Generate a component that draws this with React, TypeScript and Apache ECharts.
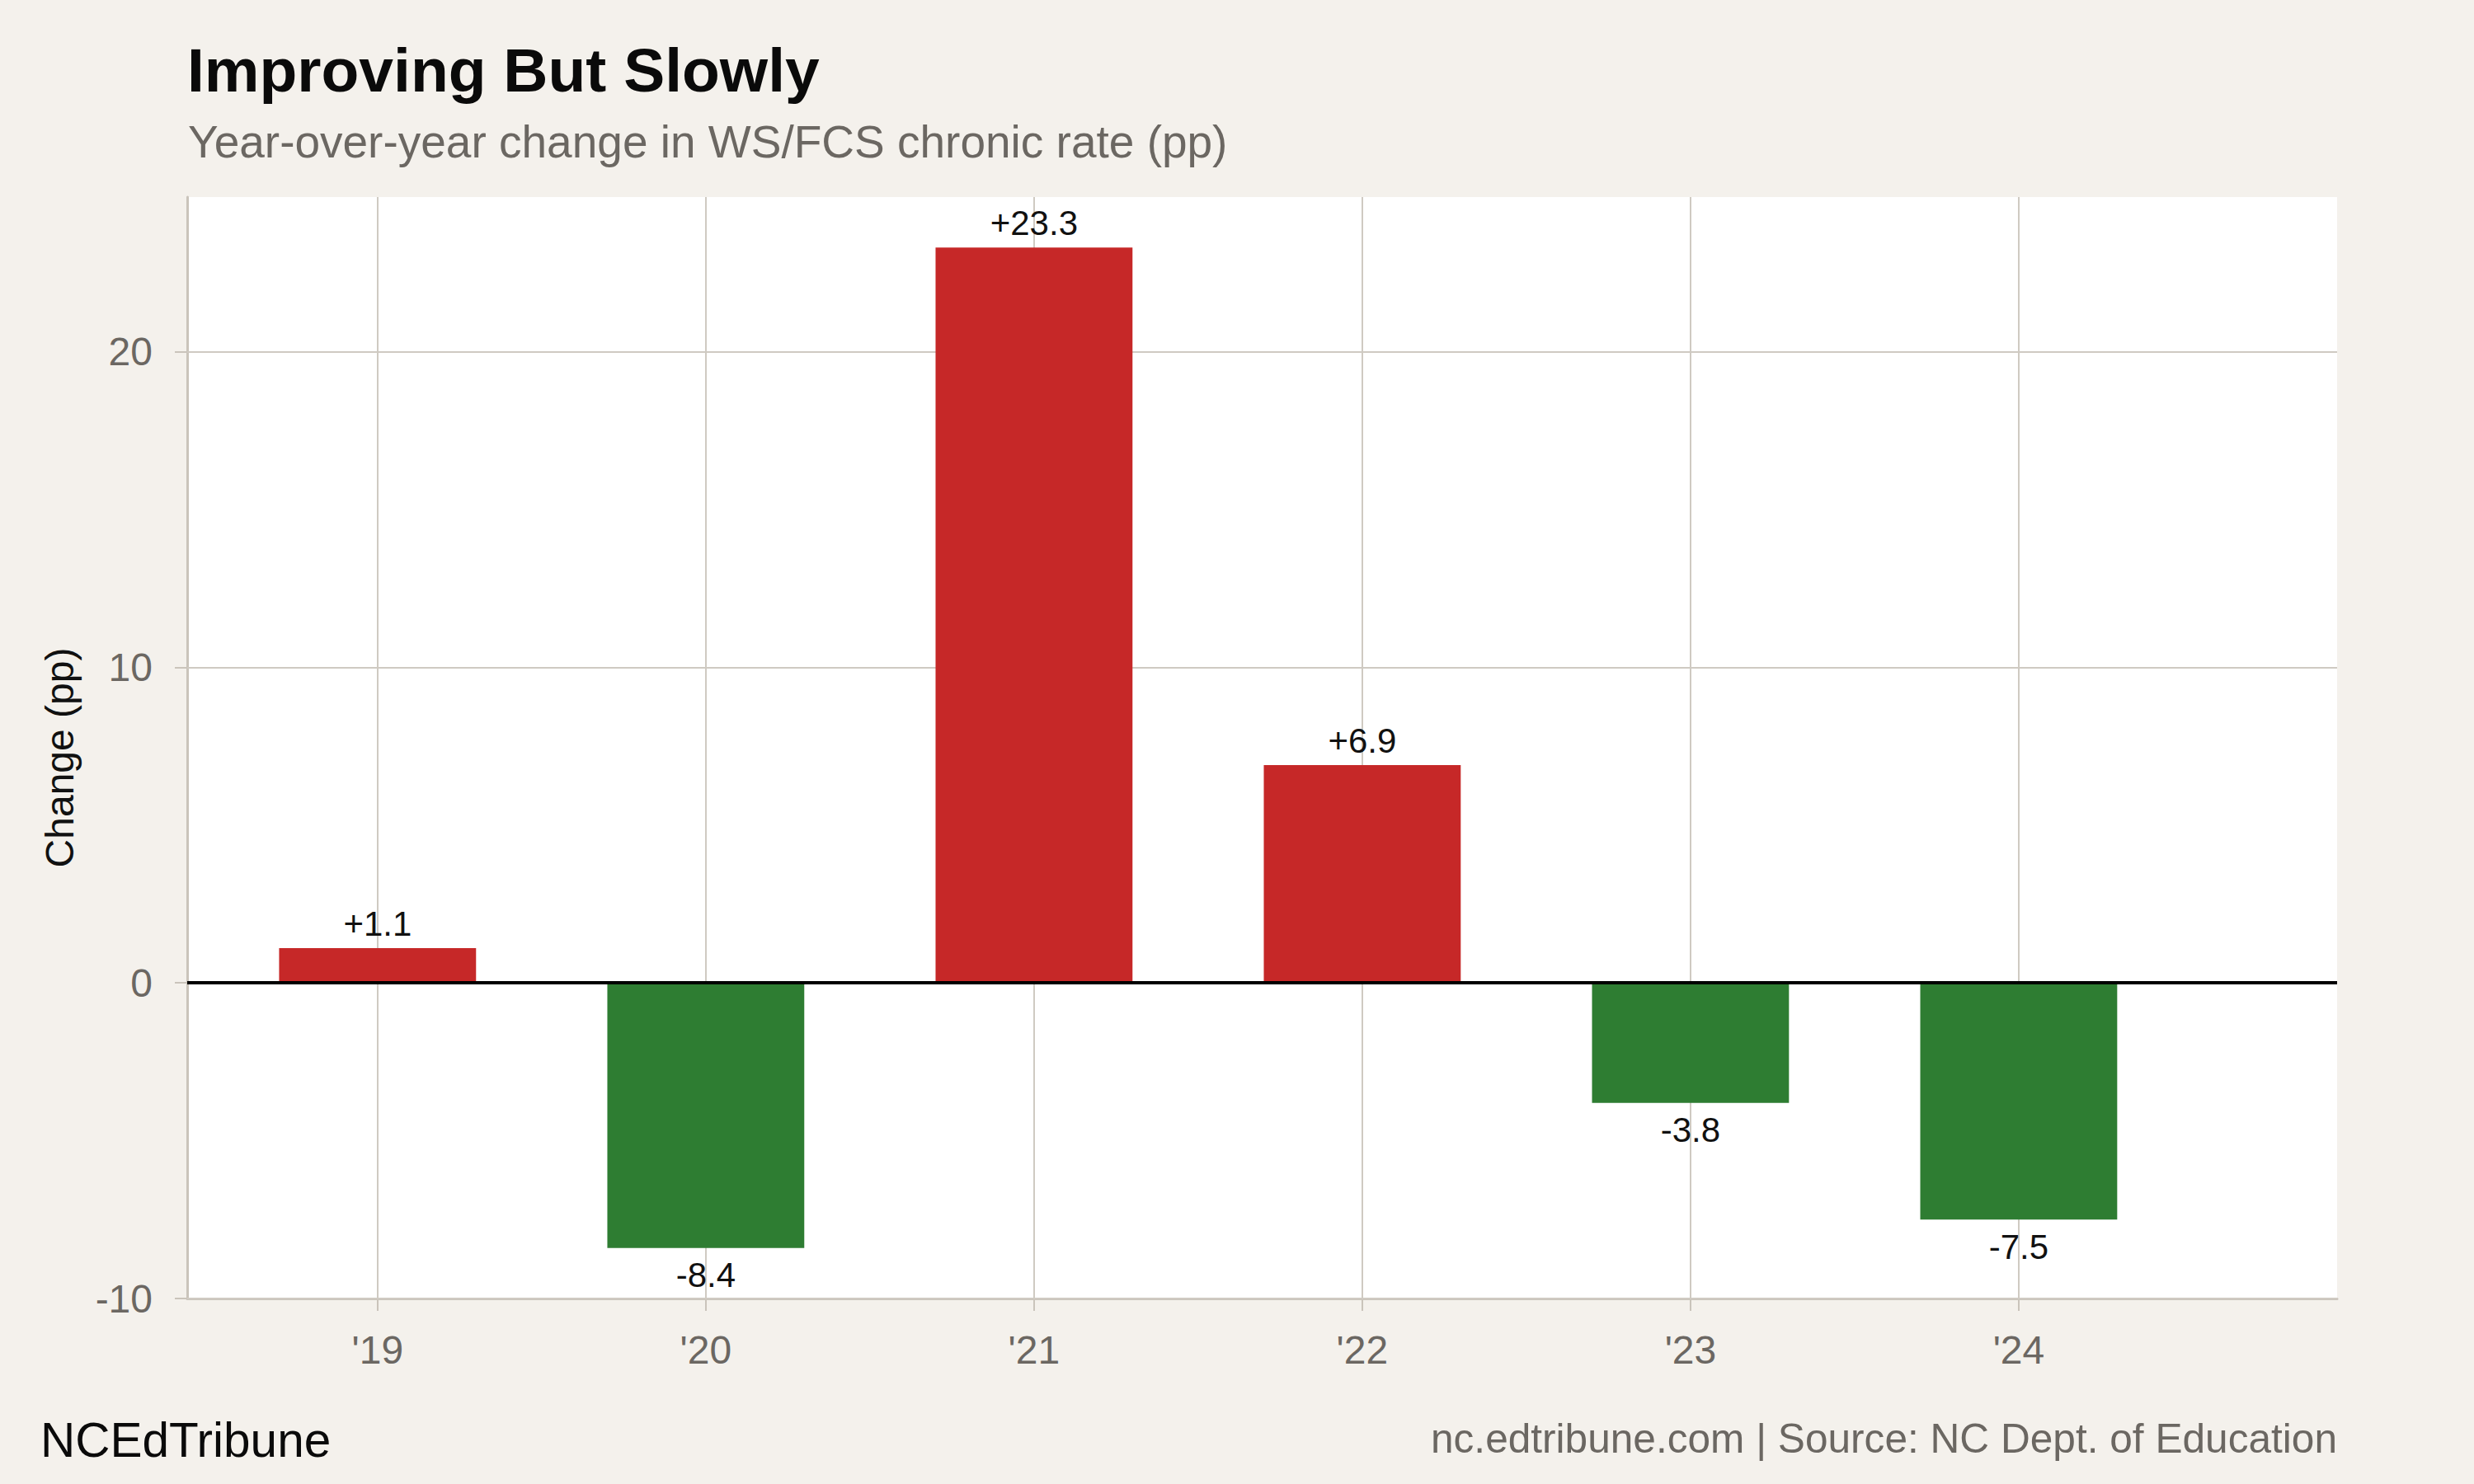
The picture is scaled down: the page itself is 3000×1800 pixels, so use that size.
import React, { useEffect, useRef } from "react";
import * as echarts from "echarts";

const years = [2019, 2020, 2021, 2022, 2023, 2024];
const changes = [1.1, -8.4, 23.3, 6.9, -3.8, -7.5];
const yTicks = [-10, 0, 10, 20];

const TITLE = "Improving But Slowly";
const SUBTITLE = "Year-over-year change in WS/FCS chronic rate (pp)";
const Y_NAME = "Change (pp)";
const CAPTION_LEFT = "NCEdTribune";
const CAPTION_RIGHT = "nc.edtribune.com | Source: NC Dept. of Education";

const W = 3000;
const H = 1800;
const GRID = { left: 227, right: 166, top: 239, bottom: 225 };
const X_MIN = 2018.42;
const X_MAX = 2024.97;
const Y_MIN = -10;
const Y_MAX = 24.9;

const FONT = "'Liberation Sans', Arial, Helvetica, sans-serif";
const RED = "#c62828";
const GREEN = "#2e7d32";
const GRIDC = "#cfcac2";
const AXISC = "#cac4bb";
const GRAY = "#6b6762";

export default function App() {
  const ref = useRef<HTMLDivElement>(null);
  useEffect(() => {
    document.body.style.margin = "0";
    const chart = echarts.init(ref.current!, null, { renderer: "svg", width: W, height: H });
    const plotW = W - GRID.left - GRID.right;
    const unit = plotW / (X_MAX - X_MIN);
    const barW = unit * 0.6;

    const barData = years.map((y, i) => {
      const v = changes[i];
      return {
        value: [y, v],
        itemStyle: { color: v >= 0 ? RED : GREEN },
        label: { position: v >= 0 ? "top" : "bottom", distance: v >= 0 ? 9 : 12 },
      };
    });

    chart.setOption({
      animation: false,
      backgroundColor: "#f4f1ec",
      grid: { ...GRID, show: true, backgroundColor: "#ffffff", borderWidth: 0 },
      xAxis: {
        type: "value",
        min: X_MIN,
        max: X_MAX,
        axisLine: { show: true, onZero: false, lineStyle: { color: AXISC, width: 3 } },
        axisTick: { show: true, customValues: years, length: 15, lineStyle: { color: AXISC, width: 2 } },
        axisLabel: {
          customValues: years,
          formatter: (v: number) => "'" + String(Math.round(v)).slice(2),
          color: GRAY,
          fontSize: 48,
          fontFamily: FONT,
          margin: 38,
        },
        splitLine: { show: false },
      },
      yAxis: {
        type: "value",
        min: Y_MIN,
        max: Y_MAX,
        axisLine: { show: true, lineStyle: { color: AXISC, width: 3 } },
        axisTick: { show: true, customValues: yTicks, length: 15, lineStyle: { color: AXISC, width: 2 } },
        axisLabel: {
          customValues: yTicks,
          color: GRAY,
          fontSize: 48,
          fontFamily: FONT,
          margin: 42,
        },
        splitLine: { show: false },
      },
      series: [
        {
          type: "bar",
          z: 2,
          barWidth: barW,
          data: barData,
          label: {
            show: true,
            color: "#111111",
            fontSize: 42,
            fontFamily: FONT,
            formatter: (p: any) => {
              const v = p.value[1];
              return (v > 0 ? "+" : "") + v.toFixed(1);
            },
          },
          markLine: {
            z: 1,
            silent: true,
            symbol: ["none", "none"],
            label: { show: false },
            lineStyle: { type: "solid", color: GRIDC, width: 2 },
            data: [
              ...years.map((y) => ({ xAxis: y })),
              ...yTicks.map((v) => ({ yAxis: v })),
            ],
          },
        },
        {
          type: "line",
          z: 3,
          data: [],
          markLine: {
            z: 3,
            silent: true,
            symbol: ["none", "none"],
            label: { show: false },
            lineStyle: { type: "solid", color: "#000000", width: 4 },
            data: [{ yAxis: 0 }],
          },
        },
      ],
      graphic: [
        {
          type: "text",
          x: 227,
          y: 85,
          style: { text: TITLE, font: `bold 75px ${FONT}`, fill: "#0a0a0a", align: "left", verticalAlign: "middle" },
        },
        {
          type: "text",
          x: 228,
          y: 172,
          style: { text: SUBTITLE, font: `55px ${FONT}`, fill: GRAY, align: "left", verticalAlign: "middle" },
        },
        {
          type: "text",
          x: 72,
          y: 919,
          rotation: Math.PI / 2,
          style: { text: Y_NAME, font: `48px ${FONT}`, fill: "#111111", align: "center", verticalAlign: "middle" },
        },
        {
          type: "text",
          x: 49,
          y: 1746,
          style: { text: CAPTION_LEFT, font: `58.5px ${FONT}`, fill: "#0a0a0a", align: "left", verticalAlign: "middle" },
        },
        {
          type: "text",
          x: 2834,
          y: 1745,
          style: { text: CAPTION_RIGHT, font: `49.6px ${FONT}`, fill: GRAY, align: "right", verticalAlign: "middle" },
        },
      ],
    });
    return () => chart.dispose();
  }, []);
  return <div ref={ref} style={{ width: W, height: H }} />;
}
